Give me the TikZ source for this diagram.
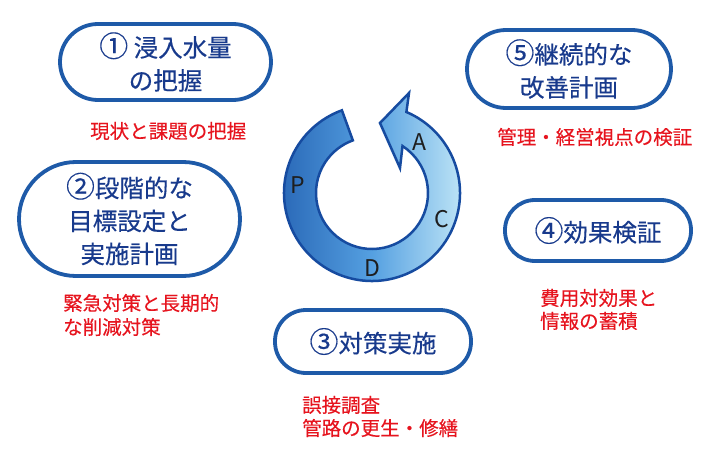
\documentclass[tikz,border=0pt]{standalone}
\usepackage{fontspec}
\setmainfont{Noto Sans CJK JP}
\newfontfamily\jpbox[FakeBold=0.35]{Noto Sans CJK JP}
\newfontfamily\jpred[FakeBold=0.25]{Noto Sans CJK JP}
\definecolor{boxblue}{RGB}{30,90,168}
\definecolor{navy}{RGB}{24,58,140}
\definecolor{redtxt}{RGB}{230,20,30}
\definecolor{ringline}{RGB}{22,75,160}
\definecolor{ringA}{RGB}{38,100,180}
\definecolor{ringB}{RGB}{85,160,225}
\definecolor{ringC}{RGB}{200,235,248}
\definecolor{lettercol}{RGB}{30,30,30}
\newcommand{\cnum}[1]{\scalebox{1.18}{#1}}
\tikzset{
  pbox/.style={draw=boxblue, line width=3.8pt, text=navy, align=center, inner sep=0pt,
    font=\jpbox\fontsize{24.5}{33}\selectfont},
  rtext/.style={text=redtxt, anchor=west, inner sep=0pt, font=\jpred\fontsize{19.5}{24}\selectfont},
  pdca/.style={text=lettercol, inner sep=0pt, font=\fontsize{23}{23}\selectfont},
}
\begin{document}
\begin{tikzpicture}[x=1pt,y=1pt]
\useasboundingbox (0,0) rectangle (712,-468);
% boxes
\node[pbox, minimum width=211pt, minimum height=76pt, rounded corners=38pt] (b1) at (165.5,-62) {\cnum{①} 浸入水量\\の把握};
\node[pbox, minimum width=221pt, minimum height=114pt, rounded corners=57pt] (b2) at (129.5,-219) {\cnum{②}段階的な\\目標設定と\\実施計画};
\node[pbox, minimum width=196pt, minimum height=63pt, rounded corners=31pt] (b3) at (373,-341.5) {\cnum{③}対策実施};
\node[pbox, minimum width=186pt, minimum height=61pt, rounded corners=30pt] (b4) at (598,-230.5) {\cnum{④}効果検証};
\node[pbox, minimum width=204pt, minimum height=78pt, rounded corners=39pt] (b5) at (569,-69) {\cnum{⑤}継続的な\\改善計画};
% red notes
\node[rtext] (r1) at (90,-131) {現状と課題の把握};
\node[rtext] (r2a) at (63,-303) {緊急対策と長期的};
\node[rtext] (r2b) at (63,-327) {な削減対策};
\node[rtext] (r3a) at (302,-405) {誤接調査};
\node[rtext] (r3b) at (302,-428) {管路の更生・修繕};
\node[rtext] (r4a) at (540,-298) {費用対効果と};
\node[rtext] (r4b) at (540,-321) {情報の蓄積};
\node[rtext] (r5) at (497,-137) {管理・経営視点の検証};
% PDCA ring
\begin{scope}[shift={(372,-193)}]
\path[draw=ringline, line width=2.5pt, line join=miter, left color=ringA, right color=ringC, middle color=ringB]
  (110:88) arc[start angle=110, end angle=427, radius=88pt]
  -- (37,100) -- (8,70) -- (28,25) -- (57:56)
  arc[start angle=417, end angle=110, radius=56pt] -- cycle;
\end{scope}
\node[pdca] (P) at (298,-185) {P};
\node[pdca] (D) at (372,-268) {D};
\node[pdca] (C) at (442,-219) {C};
\node[pdca] (A) at (419,-142) {A};
\end{tikzpicture}
\end{document}
